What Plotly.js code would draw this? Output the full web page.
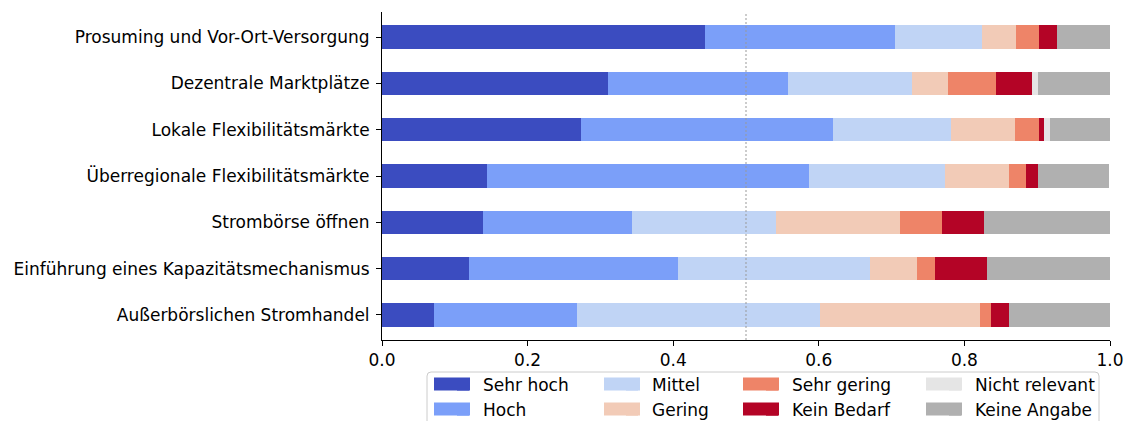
<!DOCTYPE html>
<html>
<head>
<meta charset="utf-8">
<script src="https://cdn.plot.ly/plotly-3.0.1.min.js"></script>
<style>html,body{margin:0;padding:0;background:#fff;}#chart{width:1125px;height:421px;}</style>
</head>
<body>
<div id="chart"></div>
<script>
const categories = [
  "Prosuming und Vor-Ort-Versorgung",
  "Dezentrale Marktplätze",
  "Lokale Flexibilitätsmärkte",
  "Überregionale Flexibilitätsmärkte",
  "Strombörse öffnen",
  "Einführung eines Kapazitätsmechanismus",
  "Außerbörslichen Stromhandel"
];
const seriesNames = ["Sehr hoch","Hoch","Mittel","Gering","Sehr gering","Kein Bedarf","Nicht relevant","Keine Angabe"];
const sehrHoch      = [0.444, 0.310, 0.274, 0.144, 0.139, 0.119, 0.072];
const hoch          = [0.261, 0.247, 0.346, 0.443, 0.205, 0.288, 0.196];
const mittel        = [0.119, 0.171, 0.162, 0.186, 0.197, 0.264, 0.333];
const gering        = [0.047, 0.049, 0.088, 0.088, 0.171, 0.064, 0.220];
const sehrGering    = [0.032, 0.066, 0.032, 0.024, 0.057, 0.024, 0.016];
const keinBedarf    = [0.024, 0.050, 0.008, 0.016, 0.058, 0.072, 0.024];
const nichtRelevant = [0.000, 0.008, 0.008, 0.000, 0.000, 0.000, 0.000];
const keineAngabe   = [0.073, 0.099, 0.082, 0.098, 0.173, 0.169, 0.139];
const xTickVals = [0, 0.2, 0.4, 0.6, 0.8, 1.0];
const xTickText = ["0.0", "0.2", "0.4", "0.6", "0.8", "1.0"];

const seriesValues = [sehrHoch, hoch, mittel, gering, sehrGering, keinBedarf, nichtRelevant, keineAngabe];
const colors = ["#3b4cc0","#7b9ff9","#c0d4f5","#f2cbb7","#ee8468","#b40426","#e5e5e5","#b0b0b0"];
const legendIds = ["legend","legend","legend2","legend2","legend3","legend3","legend4","legend4"];

const traces = seriesNames.map((name, i) => ({
  type: "bar",
  orientation: "h",
  name: name,
  x: seriesValues[i],
  y: categories,
  marker: {color: colors[i], line: {width: 0}},
  width: 0.5,
  legend: legendIds[i],
  hoverinfo: "x+name"
}));

const font = {family: "DejaVu Sans", size: 17, color: "#000"};
const legBase = {orientation: "v", traceorder: "normal", xref: "container", yref: "container",
  yanchor: "top", xanchor: "left", y: 1 - 367 / 421, bgcolor: "rgba(0,0,0,0)", borderwidth: 0,
  font: font, tracegroupgap: 0, itemwidth: 30};
const X0 = 382, W = 728, Y1 = 340, H = 328;
const px = v => (v - X0) / W;
const py = v => (Y1 - v) / H;

// legend key swatches (wider, matplotlib-like)
const colLeft = [434, 604, 743, 926];
const rowTop = [378, 403];
const swatchShapes = seriesNames.map((n, i) => {
  const c = Math.floor(i / 2), r = i % 2;
  return {type: "rect", xref: "paper", yref: "paper",
    x0: px(colLeft[c]), x1: px(colLeft[c] + 36), y0: py(rowTop[r] - 0.5), y1: py(rowTop[r] + 12.5),
    line: {width: 0}, fillcolor: colors[i], layer: "above"};
});

// rounded legend frame
function roundedRect(l, t, r, b, rad) {
  const P = (x, y) => px(x) + "," + py(y);
  return "M" + P(l + rad, t) + " L" + P(r - rad, t) + " Q" + P(r, t) + " " + P(r, t + rad) +
    " L" + P(r, b - rad) + " Q" + P(r, b) + " " + P(r - rad, b) +
    " L" + P(l + rad, b) + " Q" + P(l, b) + " " + P(l, b - rad) +
    " L" + P(l, t + rad) + " Q" + P(l, t) + " " + P(l + rad, t) + " Z";
}

const layout = {
  width: 1125, height: 421,
  margin: {l: 382, r: 15, t: 12, b: 81, autoexpand: false},
  paper_bgcolor: "#fff", plot_bgcolor: "#fff",
  font: font,
  barmode: "stack",
  bargap: 0.5,
  xaxis: {
    range: [0, 1.0], tickvals: xTickVals, ticktext: xTickText,
    showgrid: false, zeroline: false, showline: true, linecolor: "#000", linewidth: 1,
    ticks: "outside", ticklen: 5, tickcolor: "#000", tickfont: font, automargin: false
  },
  yaxis: {
    type: "category", categoryorder: "array", categoryarray: categories,
    range: [6.54, -0.54], showgrid: false, zeroline: false, showline: true, linecolor: "#000", linewidth: 1,
    ticks: "outside", ticklen: 5, tickcolor: "#000", tickfont: font, ticklabelstandoff: 3, automargin: false
  },
  showlegend: true,
  legend:  Object.assign({}, legBase, {x: 443 / 1125}),
  legend2: Object.assign({}, legBase, {x: 612 / 1125}),
  legend3: Object.assign({}, legBase, {x: 752 / 1125}),
  legend4: Object.assign({}, legBase, {x: 935 / 1125}),
  shapes: [
    {type: "line", xref: "x", yref: "paper", x0: 0.5, x1: 0.5, y0: 0, y1: 1,
     line: {color: "#999", width: 1, dash: "2px,2px"}, layer: "above"},
    {type: "path", xref: "paper", yref: "paper", path: roundedRect(427, 372, 1099, 440, 4),
     line: {color: "#cccccc", width: 1}, fillcolor: "rgba(0,0,0,0)", layer: "above"}
  ].concat(swatchShapes)
};

Plotly.newPlot("chart", traces, layout, {displayModeBar: false, staticPlot: true});
</script>
</body>
</html>
